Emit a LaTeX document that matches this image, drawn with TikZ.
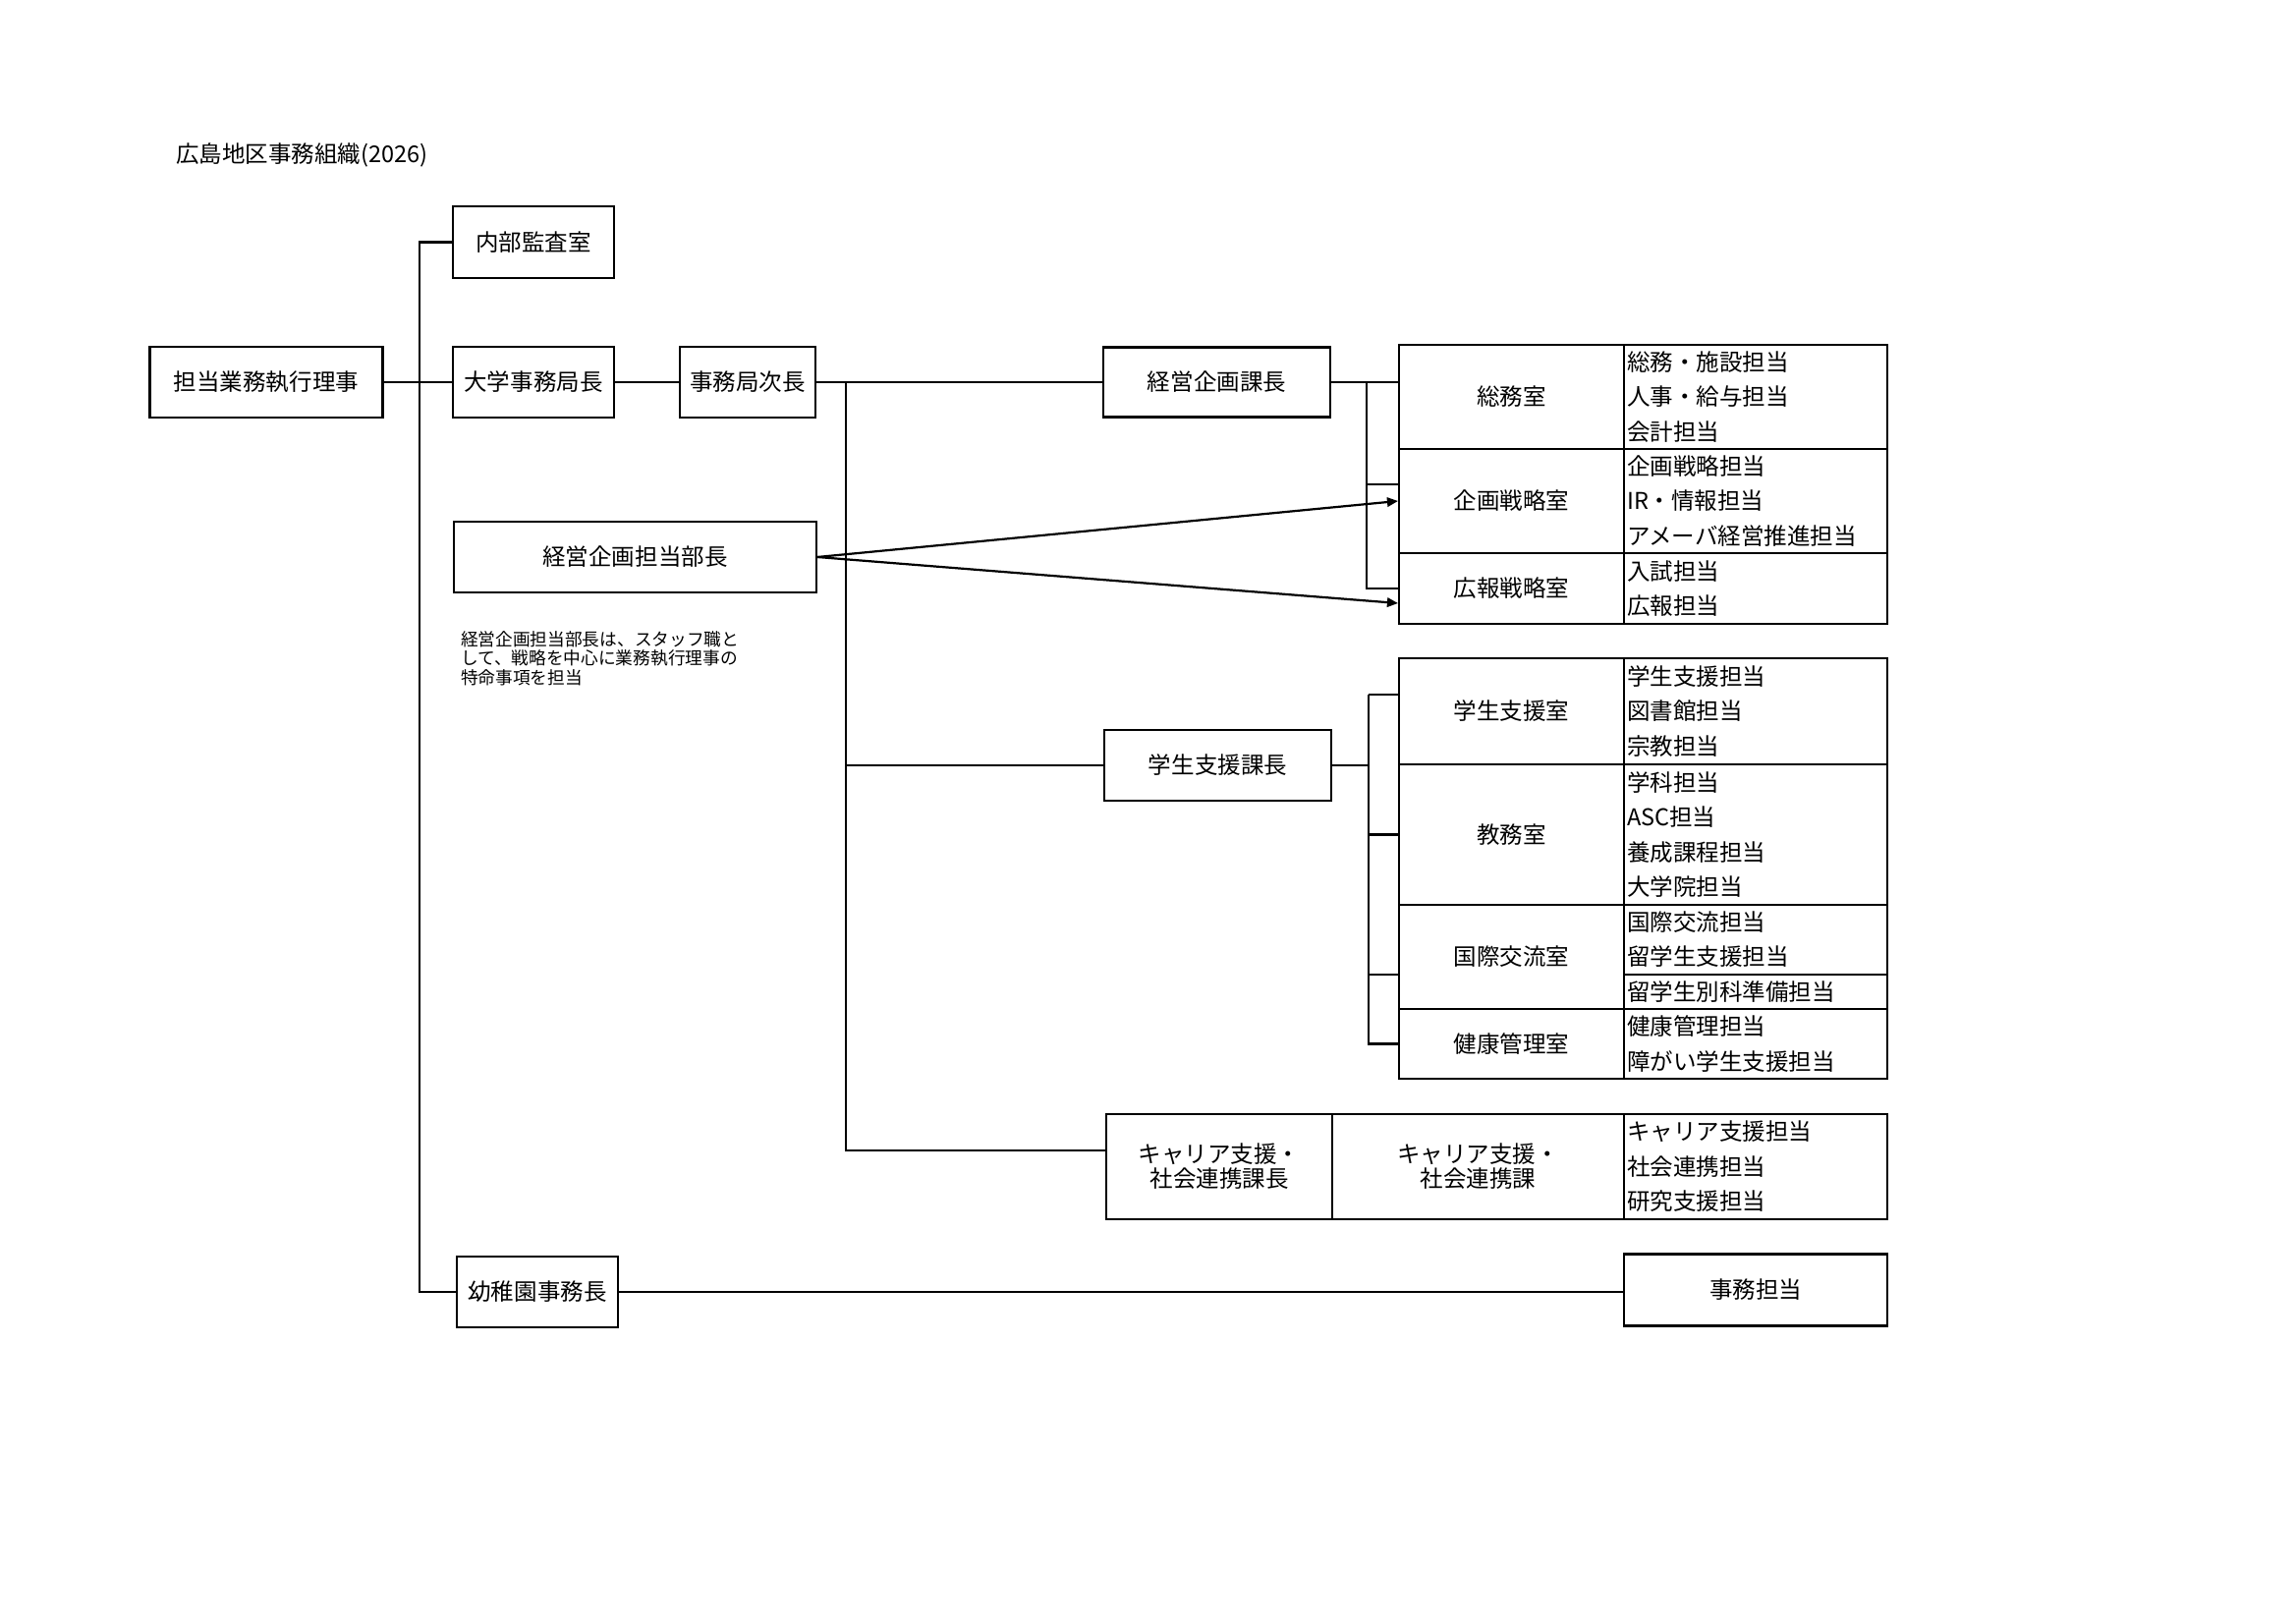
\documentclass[tikz,border=0pt]{standalone}
\usepackage{fontspec}
\setmainfont{Noto Sans CJK JP}
\usetikzlibrary{arrows.meta}
\newlength{\pxl}
\setlength{\pxl}{0.36135pt}

\begin{document}
\begin{tikzpicture}[x=0.012709cm, y=-0.012709cm, line width=0.8pt,
    size/.style 2 args={minimum width=#1\pxl, minimum height=#2\pxl},
    box/.style={draw, inner sep=0pt, align=center, font=\fontsize{8.5}{9}\selectfont},
    tanto/.style={draw, inner sep=0pt, align=left, text width=262\pxl, font=\fontsize{8.5}{12.8}\selectfont},
    memo/.style={anchor=north west, inner sep=0pt, align=left, font=\fontsize{6.4}{7.2}\selectfont},
    tip/.style={-{Triangle[length=4pt,width=3.4pt]}}]
\useasboundingbox (0,0) rectangle (2337,1653);
\node[anchor=west, inner sep=0pt, font=\fontsize{8.5}{9}\selectfont] (title) at (178,158) {広島地区事務組織(2026)};

% left column
\node[box, size={164}{73}] (audit) at (543,246.5) {内部監査室};
\node[box, size={237}{72}] (exec) at (271,389) {担当業務執行理事};
\node[box, size={164}{72}] (dean) at (543,389) {大学事務局長};
\node[box, size={138}{72}] (vice) at (761,389) {事務局次長};
\node[box, size={369}{72}] (staff) at (646.5,567) {経営企画担当部長};
\node[memo] (note) at (468,641) {経営企画担当部長は、スタッフ職と\\して、戦略を中心に業務執行理事の\\特命事項を担当};
\node[box, size={164}{72}] (kinder) at (547,1315) {幼稚園事務長};

% sections
\node[box, size={231}{71}] (kikaku) at (1238.5,389) {経営企画課長};
\node[box, size={231}{72}] (gakusei) at (1239.5,779) {学生支援課長};
\node[box, size={230}{107}] (career) at (1241,1187.5) {キャリア支援・\\社会連携課長};

% 経営企画課
\node[box, size={229}{106}] (soumu) at (1538.5,404) {総務室};
\node[tanto, size={268}{106}] (soumuT) at (1787,404) {総務・施設担当\\人事・給与担当\\会計担当};
\node[box, size={229}{106}] (kikakusen) at (1538.5,510) {企画戦略室};
\node[tanto, size={268}{106}] (kikakusenT) at (1787,510) {企画戦略担当\\IR・情報担当\\アメーバ経営推進担当};
\node[box, size={229}{72}] (kouhou) at (1538.5,599) {広報戦略室};
\node[tanto, size={268}{72}] (kouhouT) at (1787,599) {入試担当\\広報担当};

% 学生支援課
\node[box, size={229}{108}] (gsien) at (1538.5,724) {学生支援室};
\node[tanto, size={268}{108}] (gsienT) at (1787,724) {学生支援担当\\図書館担当\\宗教担当};
\node[box, size={229}{143}] (kyoumu) at (1538.5,849.5) {教務室};
\node[tanto, size={268}{143}] (kyoumuT) at (1787,849.5) {学科担当\\ASC担当\\養成課程担当\\大学院担当};
\node[box, size={229}{106}] (kokusai) at (1538.5,974) {国際交流室};
\node[tanto, size={268}{106}] (kokusaiT) at (1787,974) {国際交流担当\\留学生支援担当\\留学生別科準備担当};
\node[box, size={229}{71}] (kenkou) at (1538.5,1062.5) {健康管理室};
\node[tanto, size={268}{71}] (kenkouT) at (1787,1062.5) {健康管理担当\\障がい学生支援担当};
\draw ([shift={(0,17.7)}]kokusaiT.west) -- ([shift={(0,17.7)}]kokusaiT.east);

% キャリア支援・社会連携課
\node[box, size={297}{107}] (careerSec) at (1504.5,1187.5) {キャリア支援・\\社会連携課};
\node[tanto, size={268}{107}] (careerT) at (1787,1187.5) {キャリア支援担当\\社会連携担当\\研究支援担当};
\node[box, size={268}{73}] (jimu) at (1787,1313) {事務担当};

% trunks
\coordinate (tA) at (427,0);
\coordinate (tB) at (861,0);
\coordinate (bA) at (1391,0);
\coordinate (bB) at (1393,0);
\coordinate (cA) at ([shift={(0,-16.5)}]career.west);
\draw (audit.west) -- (audit.west -| tA) -- (kinder.west -| tA) -- (kinder.west);
\draw (exec) -- (dean);
\draw (dean) -- (vice);
\draw (vice.east) -- (vice.east -| kikaku.west);
\draw (vice.east -| tB) |- (cA);
\draw (gakusei.west -| tB) -- (gakusei.west);
\draw (kinder.east) -- (kinder.east -| jimu.west);

% brackets
\coordinate (kA) at ([shift={(0,-17)}]kikakusen.west);
\draw (kikaku.east) -- (kikaku.east -| soumu.west);
\draw (kikaku.east -| bA) |- (kouhou.west);
\draw (kA -| bA) -- (kA);
\coordinate (gA) at ([shift={(0,-17)}]gsien.west);
\coordinate (gC) at ([shift={(0,18)}]kokusai.west);
\draw (gakusei.east) -- (gakusei.east -| bB);
\draw (gA -| bB) |- (kenkou.west);
\draw (gA -| bB) -- (gA);
\draw (kyoumu.west -| bB) -- (kyoumu.west);
\draw (gC -| bB) -- (gC);

% staff arrows
\draw[tip] (staff.east) -- (kikakusen.west);
\draw[tip] (staff.east) -- ([shift={(0,15)}]kouhou.west);
\end{tikzpicture}
\end{document}
